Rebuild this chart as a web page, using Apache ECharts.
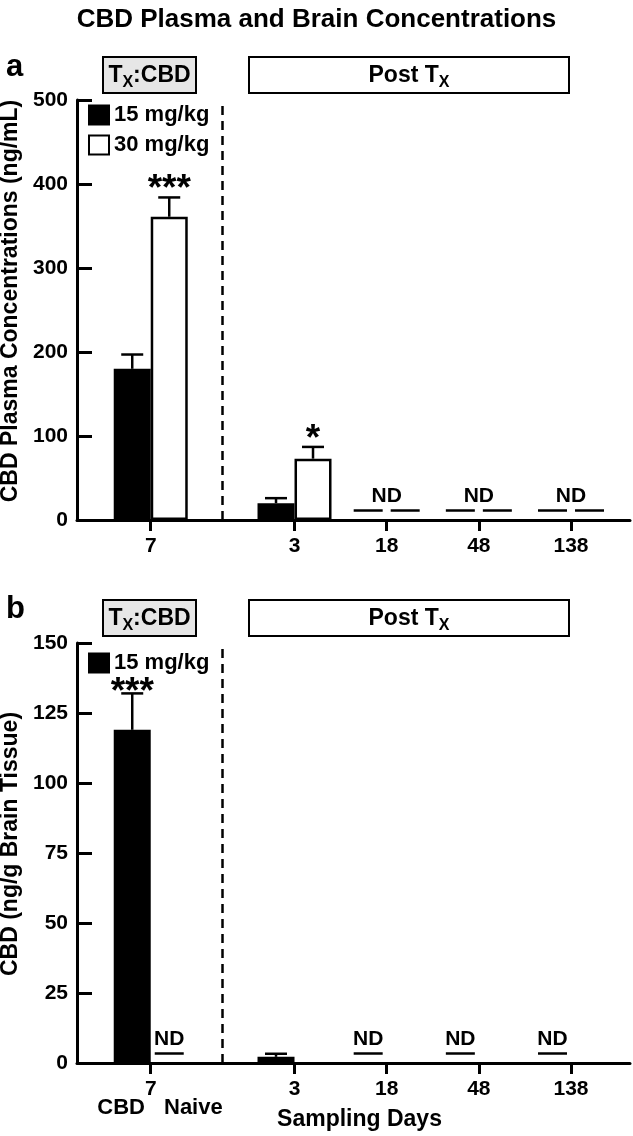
<!DOCTYPE html>
<html>
<head>
	<meta charset="utf-8" />
	<title>CBD Plasma and Brain Concentrations</title>
	<script src="https://cdn.jsdelivr.net/npm/echarts@6/dist/echarts.min.js"></script>
	<style>
		html, body {margin:0;padding:0;background:#fff;}
		#chart {width:633px;height:1136px;}
	</style>
</head>
<body>
	<div id="chart"></div>

	<script>
		// sampling days
		var days = ['7', '3', '18', '48', '138'];

		// a : plasma (ng/mL), mean + upper SEM
		var plasma15    = [180, 20, null, null, null];
		var plasma15Err = [17, 6, null, null, null];
		var plasma30    = [361, 73, null, null, null];
		var plasma30Err = [23, 14, null, null, null];
		var plasmaSig30 = ['***', '*', '', '', ''];
		var plasmaND    = [false, false, true, true, true]; // both doses ND

		// b : brain (ng/g tissue)
		var brain15      = [119, 2.2, null, null, null];
		var brain15Err   = [13, 1.1, null, null, null];
		var brainSig15   = ['***', '', '', '', ''];
		var brainND15    = [false, false, true, true, true];
		var brainNDNaive = [true, false, false, false, false];

		var yTicksA = [0, 100, 200, 300, 400, 500];
		var yTicksB = [0, 25, 50, 75, 100, 125, 150];

		/* layout (x axis is a value axis so the gap after day 7 can be wider) */
		var xSlot = [8, 23.6, 33.6, 43.6, 53.6];
		var sepX = 15.8;
		var xMax = 60;
		var BAR_W = 37;
		var FONT = '"Liberation Sans", Arial, sans-serif';

		var chart = echarts.init(document.getElementById('chart'));

		function dayLabel(v) {
			for (var i = 0; i < xSlot.length; i++) {
				if (Math.abs(xSlot[i] - v) < 1e-6) return days[i];
			}
			return '';
		}

		function barData(vals) {
			var out = [];
			vals.forEach(function(v, i) { if (v != null) out.push([xSlot[i], v]); });
			return out;
		}

		// error bar (+ significance stars) for one group; side -1 = left slot, 1 = right slot
		function errSeries(vals, errs, sig, side, gi, starGap) {
			var data = [];
			var marks = [];
			vals.forEach(function(v, i) {
				if (v == null) return;
				data.push([xSlot[i], v, errs[i]]);
				marks.push(sig[i] || '');
			});
			return {
				type: 'custom',
				xAxisIndex: gi,
				yAxisIndex: gi,
				z: 5,
				data: data,
				renderItem: function(params, api) {
					var base = api.coord([api.value(0), api.value(1)]);
					var top = api.coord([api.value(0), api.value(1) + api.value(2)]);
					var cx = base[0] + side * BAR_W / 2;
					var ls = {stroke: '#000', lineWidth: 2.5};
					var kids = [
						{type: 'line', shape: {x1: cx, y1: base[1], x2: cx, y2: top[1]}, style: ls},
						{type: 'line', shape: {x1: cx - 11, y1: top[1], x2: cx + 11, y2: top[1]}, style: ls}
					];
					var s = marks[params.dataIndex];
					if (s) {
						kids.push({
							type: 'text',
							style: {
								text: s, x: cx, y: top[1] - starGap + 23,
								align: 'center', verticalAlign: 'bottom',
								font: 'bold 37px ' + FONT, fill: '#000'
							}
						});
					}
					return {type: 'group', children: kids};
				}
			};
		}

		var sepLine = {
			silent: true,
			symbol: 'none',
			label: {show: false},
			lineStyle: {color: '#000', type: [9, 6], width: 2.5},
			data: [{xAxis: sepX}]
		};

		// "ND" marks; each entry covers slots from..to
		function ndSeries(flagsLeft, flagsRight, gi, withSep) {
			var data = [];
			xSlot.forEach(function(x, i) {
				var l = flagsLeft ? flagsLeft[i] : false;
				var r = flagsRight ? flagsRight[i] : false;
				if (l || r) data.push([x, 0, l ? -1 : 1, r ? 1 : -1]);
			});
			return {
				type: 'custom',
				xAxisIndex: gi,
				yAxisIndex: gi,
				z: 5,
				data: data,
				markLine: withSep ? sepLine : undefined,
				renderItem: function(params, api) {
					var base = api.coord([api.value(0), 0]);
					var from = api.value(2), to = api.value(3);
					var kids = [];
					for (var s = from; s <= to; s += 2) {
						var cx = base[0] + s * BAR_W / 2;
						kids.push({type: 'line', shape: {x1: cx - 14.5, y1: base[1] - 9.5, x2: cx + 14.5, y2: base[1] - 9.5}, style: {stroke: '#000', lineWidth: 2.5}});
					}
					kids.push({
						type: 'text',
						style: {
							text: 'ND', x: base[0] + (from + to) / 2 * BAR_W / 2, y: base[1] - 24,
							align: 'center', verticalAlign: 'middle',
							font: 'bold 21px ' + FONT, fill: '#000'
						}
					});
					return {type: 'group', children: kids};
				}
			};
		}

		function xAxisOf(gi, name) {
			return {
				gridIndex: gi,
				type: 'value',
				min: 0,
				max: xMax,
				name: name || '',
				nameLocation: 'middle',
				nameGap: 45,
				nameTextStyle: {fontSize: 23, fontWeight: 'bold', color: '#000', fontFamily: FONT, padding: [0, 0, 0, 12]},
				axisLine: {show: true, lineStyle: {color: '#000', width: 3}},
				axisTick: {show: true, customValues: xSlot, length: 11, lineStyle: {color: '#000', width: 3}},
				axisLabel: {customValues: xSlot, formatter: dayLabel, fontSize: 21, fontWeight: 'bold', color: '#000', fontFamily: FONT, margin: 16},
				splitLine: {show: false}
			};
		}

		function yAxisOf(gi, ticks, name) {
			return {
				gridIndex: gi,
				type: 'value',
				min: ticks[0],
				max: ticks[ticks.length - 1],
				interval: ticks[1] - ticks[0],
				name: name,
				nameLocation: 'middle',
				nameGap: 52,
				nameTextStyle: {fontSize: 23, fontWeight: 'bold', color: '#000', fontFamily: FONT, padding: [0, 0, 0, 18]},
				axisLine: {show: true, lineStyle: {color: '#000', width: 3}},
				axisTick: {show: true, inside: true, length: 15, lineStyle: {color: '#000', width: 3}},
				axisLabel: {fontSize: 21, fontWeight: 'bold', color: '#000', fontFamily: FONT, margin: 9},
				splitLine: {show: false}
			};
		}

		// header box with subscript X
		function headBox(x, y, w, fill, txt) {
			return {
				type: 'group',
				children: [
					{type: 'rect', shape: {x: x, y: y, width: w, height: 36}, style: {fill: fill, stroke: '#000', lineWidth: 2}},
					{
						type: 'text',
						style: {
							x: x + w / 2, y: y + 19, align: 'center', verticalAlign: 'middle',
							text: txt,
							rich: {
								t: {fontSize: 23, fontWeight: 'bold', fontFamily: FONT, lineHeight: 24, verticalAlign: 'middle'},
								s: {fontSize: 16, fontWeight: 'bold', fontFamily: FONT, lineHeight: 30, verticalAlign: 'bottom'}
							}
						}
					}
				]
			};
		}

		var option = {
			animation: false,
			backgroundColor: '#fff',
			textStyle: {fontFamily: FONT},
			title: {
				text: 'CBD Plasma and Brain Concentrations',
				left: 'center',
				top: 2,
				textStyle: {fontSize: 26, fontWeight: 'bold', color: '#000', fontFamily: FONT}
			},
			grid: [
				{left: 77, right: 3, top: 100, height: 420, outerBoundsMode: 'none'},
				{left: 77, right: 3, top: 643, height: 420, outerBoundsMode: 'none'}
			],
			legend: [
				{
					data: ['15 mg/kg', '30 mg/kg'],
					orient: 'vertical', left: 88, top: 104, padding: 0,
					itemWidth: 20, itemHeight: 19, itemGap: 8, icon: 'rect',
					textStyle: {fontSize: 22, fontWeight: 'bold', color: '#000', fontFamily: FONT}
				},
				{
					data: ['15 mg/kg'],
					orient: 'vertical', left: 88, top: 652, padding: 0,
					itemWidth: 20, itemHeight: 19, icon: 'rect',
					textStyle: {fontSize: 22, fontWeight: 'bold', color: '#000', fontFamily: FONT}
				}
			],
			xAxis: [xAxisOf(0), xAxisOf(1, 'Sampling Days')],
			yAxis: [
				yAxisOf(0, yTicksA, 'CBD Plasma Concentrations (ng/mL)'),
				yAxisOf(1, yTicksB, 'CBD (ng/g Brain Tissue)')
			],
			series: [
				{
					name: '15 mg/kg', type: 'bar', xAxisIndex: 0, yAxisIndex: 0,
					barWidth: BAR_W, barGap: '0%',
					itemStyle: {color: '#000', borderColor: '#000', borderWidth: 2.5},
					data: barData(plasma15)
				},
				{
					name: '30 mg/kg', type: 'bar', xAxisIndex: 0, yAxisIndex: 0,
					barWidth: BAR_W, barGap: '0%',
					itemStyle: {color: '#fff', borderColor: '#000', borderWidth: 2.5},
					data: barData(plasma30)
				},
				errSeries(plasma15, plasma15Err, [], -1, 0, 12),
				errSeries(plasma30, plasma30Err, plasmaSig30, 1, 0, 12),
				ndSeries(plasmaND, plasmaND, 0, true),

				{
					name: '15 mg/kg', type: 'bar', xAxisIndex: 1, yAxisIndex: 1,
					barWidth: BAR_W, barGap: '0%',
					itemStyle: {color: '#000', borderColor: '#000', borderWidth: 2.5},
					data: barData(brain15)
				},
				{
					name: 'CBD Naive', type: 'bar', xAxisIndex: 1, yAxisIndex: 1,
					barWidth: BAR_W, barGap: '0%',
					itemStyle: {color: '#fff', borderColor: '#000', borderWidth: 2.5},
					data: []
				},
				errSeries(brain15, brain15Err, brainSig15, -1, 1, 5),
				ndSeries(brainND15, null, 1, true),
				ndSeries(null, brainNDNaive, 1, false)
			],
			graphic: [
				{type: 'text', left: 6, top: 52, style: {text: 'a', font: 'bold 31px ' + FONT, fill: '#000'}},
				{type: 'text', left: 6, top: 594, style: {text: 'b', font: 'bold 31px ' + FONT, fill: '#000'}},
				headBox(103, 57, 93, '#e6e6e6', '{t|T}{s|X}{t|:CBD}'),
				headBox(249, 57, 320, '#fff', '{t|Post T}{s|X}'),
				headBox(103, 600, 93, '#e6e6e6', '{t|T}{s|X}{t|:CBD}'),
				headBox(249, 600, 320, '#fff', '{t|Post T}{s|X}'),
				{type: 'text', x: 145, y: 1108, style: {text: 'CBD', align: 'right', verticalAlign: 'middle', font: 'bold 22px ' + FONT, fill: '#000'}},
				{type: 'text', x: 164, y: 1108, style: {text: 'Naive', align: 'left', verticalAlign: 'middle', font: 'bold 22px ' + FONT, fill: '#000'}}
			]
		};

		chart.setOption(option);
		window.addEventListener('resize', chart.resize);
	</script>
</body>
</html>
